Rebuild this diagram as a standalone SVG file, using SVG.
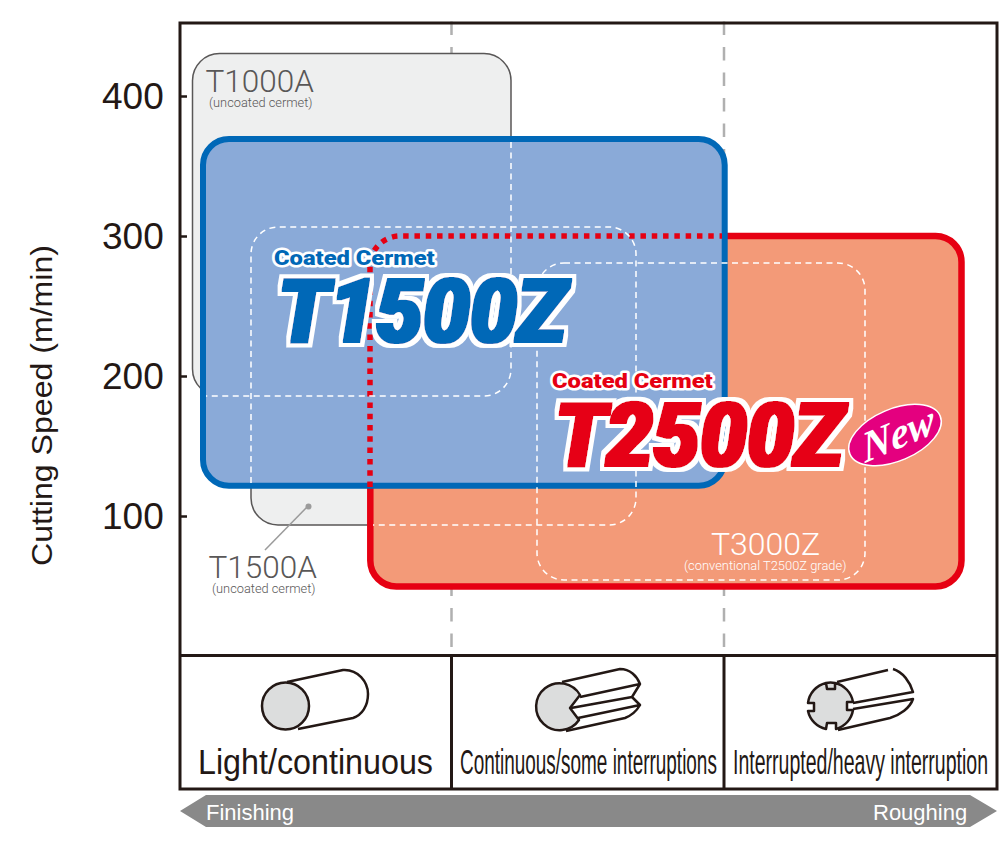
<svg xmlns="http://www.w3.org/2000/svg" width="1000" height="850" viewBox="0 0 1000 850">
<style>
text{font-family:"Liberation Sans",Arial,sans-serif}
.ax{font-size:37px;fill:#231815}
.frame{fill:none;stroke:#231815;stroke-width:3}
.tick{stroke:#231815;stroke-width:2.5}
.guide{stroke:#b0b0b0;stroke-width:2.500;stroke-dasharray:13.500 12;fill:none}
.grey{fill:#eeefef;stroke:none}
.gl{fill:none;stroke:#595757;stroke-width:1.5}
.wd{fill:none;stroke:#fff;stroke-width:1.5;stroke-dasharray:6 4.5}
.gt,.gs,.wt,.ws{font-family:Roboto,"Liberation Sans",sans-serif;font-weight:300}
.gt{font-size:31.500px;fill:#595757}
.gs{font-size:12.800px;fill:#595757}
.wt{font-size:32px;fill:#fff}
.ws{font-size:12.900px;fill:#fff}
.big{font-family:Roboto,"Liberation Sans",sans-serif;font-size:88px;font-weight:900;font-style:italic}
.sub{font-family:Roboto,"Liberation Sans",sans-serif;font-size:21px;font-weight:900;stroke:#fff;stroke-width:5px;paint-order:stroke;stroke-linejoin:round}
.lab{font-size:35px;fill:#231815}
.ic{fill:none;stroke:#231815;stroke-width:2.5;stroke-linejoin:round}
.end{fill:#dcdddd;stroke:#231815;stroke-width:2.5;stroke-linejoin:round}
.arr{font-size:22px;fill:#fff}
</style>
<defs>
<filter id="outline" x="-10%" y="-20%" width="120%" height="140%">
<feMorphology in="SourceGraphic" operator="dilate" radius="2 1" result="fat"/>
<feMorphology in="SourceAlpha" operator="dilate" radius="6 5" result="wide"/>
<feFlood flood-color="#fff"/>
<feComposite in2="wide" operator="in" result="halo"/>
<feMerge><feMergeNode in="halo"/><feMergeNode in="fat"/></feMerge>
</filter>
</defs>

<g id="connectors">
<path class="guide" d="M451.500 21.500V655M724 21.500V655"/>
</g>

<g id="axis">
<rect class="frame" x="180" y="23" width="817" height="766"/>
<path class="frame" d="M180 655.500H997M451.500 655.500V789M724 655.500V789"/>
<path class="tick" d="M180 96.500H187M180 236.500H187M180 376.500H187M180 516.500H187"/>
<text class="ax" x="102" y="108.500">400</text>
<text class="ax" x="102" y="248.500">300</text>
<text class="ax" x="102" y="388.500">200</text>
<text class="ax" x="102" y="528.500">100</text>
<text transform="translate(52 566) rotate(-90) scale(1.088 1)" font-size="29.500" fill="#231815">Cutting Speed (m/min)</text>
</g>

<g id="T1000A">
<rect class="grey" x="192.500" y="53.500" width="318.500" height="342.500" rx="27"/>
<rect class="gl" x="192.500" y="53.500" width="318.500" height="342.500" rx="27"/>
<text class="gt" x="205.500" y="91.700">T1000A</text>
<text class="gs" x="209" y="106.500">(uncoated cermet)</text>
</g>
<g id="T1500A">
<rect class="grey" x="251" y="227" width="385" height="298" rx="27"/>
<rect class="gl" x="251" y="227" width="385" height="298" rx="27"/>
<path d="M308 506L265 550" stroke="#9b9b9b" stroke-width="1.5"/>
<circle cx="308.500" cy="506.500" r="3" fill="#9b9b9b"/>
<text class="gt" x="208.500" y="578">T1500A</text>
<text class="gs" x="212" y="592.700">(uncoated cermet)</text>
</g>

<g id="T2500Z-area">
<rect x="370.300" y="236" width="591.200" height="350.500" rx="26" fill="#f39a78" stroke="#e60012" stroke-width="6.500"/>
</g>
<g id="T1500Z-area">
<rect x="203" y="139" width="521.700" height="346.700" rx="26" fill="#8aaad8" stroke="#0068b7" stroke-width="6"/>
</g>
<g id="overlaps">
<path d="M370 487V266A30 30 0 0 1 400 236H722" fill="none" stroke="#e60012" stroke-width="5.500" stroke-dasharray="5.500 5.800"/>
<path class="wd" d="M511 142V369A27 27 0 0 1 484 396H206"/>
<path class="wd" d="M251 483V254A27 27 0 0 1 278 227H609A27 27 0 0 1 636 254V498A27 27 0 0 1 609 525H373"/>
<rect class="wd" x="537" y="263" width="328" height="317" rx="27"/>
</g>

<g id="T1500Z">
<text class="sub" transform="translate(274 265) scale(1.13 1)" fill="#0068b7">Coated Cermet</text>
<g filter="url(#outline)"><text class="big" transform="translate(278 342) scale(.95 1)" fill="#0068b7">T1500Z</text></g>
</g>
<g id="T2500Z">
<text class="sub" transform="translate(552 388) scale(1.13 1)" fill="#e60012">Coated Cermet</text>
<g filter="url(#outline)"><text class="big" transform="translate(555 466) scale(.95 1)" fill="#e60012">T2500Z</text></g>
</g>
<g id="New" transform="rotate(-23 895 435)">
<ellipse cx="895" cy="435" rx="49" ry="26" fill="#e4007f" stroke="#fff" stroke-width="1.500"/>
<text transform="translate(895 449) skewX(-14)" text-anchor="middle" fill="#fff" font-size="42" font-weight="700" font-style="italic" style="font-family:'Liberation Serif',serif">New</text>
</g>
<g id="T3000Z">
<text class="wt" x="711" y="555">T3000Z</text>
<text class="ws" x="684" y="570">(conventional T2500Z grade)</text>
</g>

<g id="light">
<path class="ic" d="M287 682L343 670C358 669 368 682 368 694C368 706 362 715 353 718L298 729"/>
<circle class="end" cx="285.500" cy="706" r="23.500"/>
<text class="lab" transform="translate(198 774) scale(.922 1)">Light/continuous</text>
</g>
<g id="some">
<path class="ic" d="M562 682L620 669C630 669 637 676 640 684L580 697M640 684L632 697L640 705L578 718M632 697L571 708M640 705C636 712 630 716 625 718L566 731"/>
<path class="end" d="M580 695A23.500 23.500 0 1 0 579 720L570 708Z"/>
<text class="lab" transform="translate(460 774) scale(.5415 1)">Continuous/some interruptions</text>
</g>
<g id="heavy">
<path class="ic" d="M837 682L888 670M893 669C903 672 910 682 913 692L853 703M853 709L913 699C910 708 900 715 890 718L838 730"/>
<path class="end" d="M826 683A23.500 23.500 0 0 1 835 683L835 689H827ZM835 683A23.500 23.500 0 0 1 853 702H847V710H853A23.500 23.500 0 0 1 836 729L836 723H827L826 729A23.500 23.500 0 0 1 808 711H814V703H808A23.500 23.500 0 0 1 826 683L827 689H835Z"/>
<text class="lab" transform="translate(733 774) scale(.558 1)">Interrupted/heavy interruption</text>
</g>

<g id="range">
<polygon points="180,811 206,795 970,795 997,811 970,827 206,827" fill="#898989"/>
<text class="arr" x="206" y="820">Finishing</text>
<text class="arr" x="873" y="820">Roughing</text>
</g>
</svg>
